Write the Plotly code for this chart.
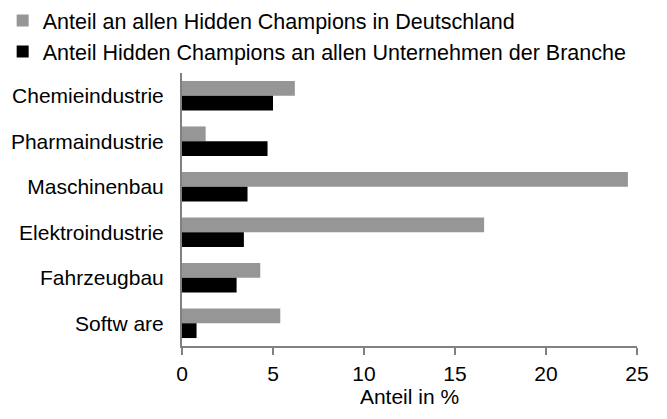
import plotly.graph_objects as go

# Branchen (top to bottom)
branchen = ["Chemieindustrie", "Pharmaindustrie", "Maschinenbau",
            "Elektroindustrie", "Fahrzeugbau", "Softw are"]

# Anteil an allen Hidden Champions in Deutschland (%)
anteil_hc_deutschland = [6.2, 1.3, 24.5, 16.6, 4.3, 5.4]
# Anteil Hidden Champions an allen Unternehmen der Branche (%)
anteil_hc_branche = [5.0, 4.7, 3.6, 3.4, 3.0, 0.8]

x_ticks = [0, 5, 10, 15, 20, 25]

FONT = "Liberation Sans, Arial, sans-serif"

fig = go.Figure()
fig.add_trace(go.Bar(
    y=branchen, x=anteil_hc_deutschland, orientation="h",
    name="Anteil an allen Hidden Champions in Deutschland",
    marker=dict(color="#969696", line=dict(width=0)),
))
fig.add_trace(go.Bar(
    y=branchen, x=anteil_hc_branche, orientation="h",
    name="Anteil Hidden Champions an allen Unternehmen der Branche",
    marker=dict(color="#000000", line=dict(width=0)),
))

fig.update_layout(
    width=667, height=419,
    margin=dict(l=182, r=30, t=73, b=73, autoexpand=False),
    paper_bgcolor="white", plot_bgcolor="white",
    barmode="group", bargap=0.35, bargroupgap=0,
    font=dict(family=FONT, size=21, color="black"),
    showlegend=True,
    legend=dict(
        xref="container", yref="container",
        x=0.004, y=1.0, xanchor="left", yanchor="top",
        traceorder="normal", font=dict(size=21.5),
        bgcolor="rgba(0,0,0,0)", itemwidth=30,
    ),
    xaxis=dict(
        range=[0, 25], tickvals=x_ticks, ticktext=[str(v) for v in x_ticks],
        showgrid=False, zeroline=False, automargin=False,
        showline=True, linecolor="#808080", linewidth=2,
        ticks="outside", ticklen=7, tickcolor="#808080", tickwidth=2,
        ticklabelstandoff=1,
        title=dict(text="Anteil in %", standoff=0, font=dict(size=21)),
        tickfont=dict(size=21),
    ),
    yaxis=dict(
        autorange="reversed", showgrid=False, zeroline=False, automargin=False,
        showline=True, linecolor="#808080", linewidth=2,
        ticks="", ticklabelstandoff=12, tickfont=dict(size=21),
    ),
)

fig.write_html("out.html")
